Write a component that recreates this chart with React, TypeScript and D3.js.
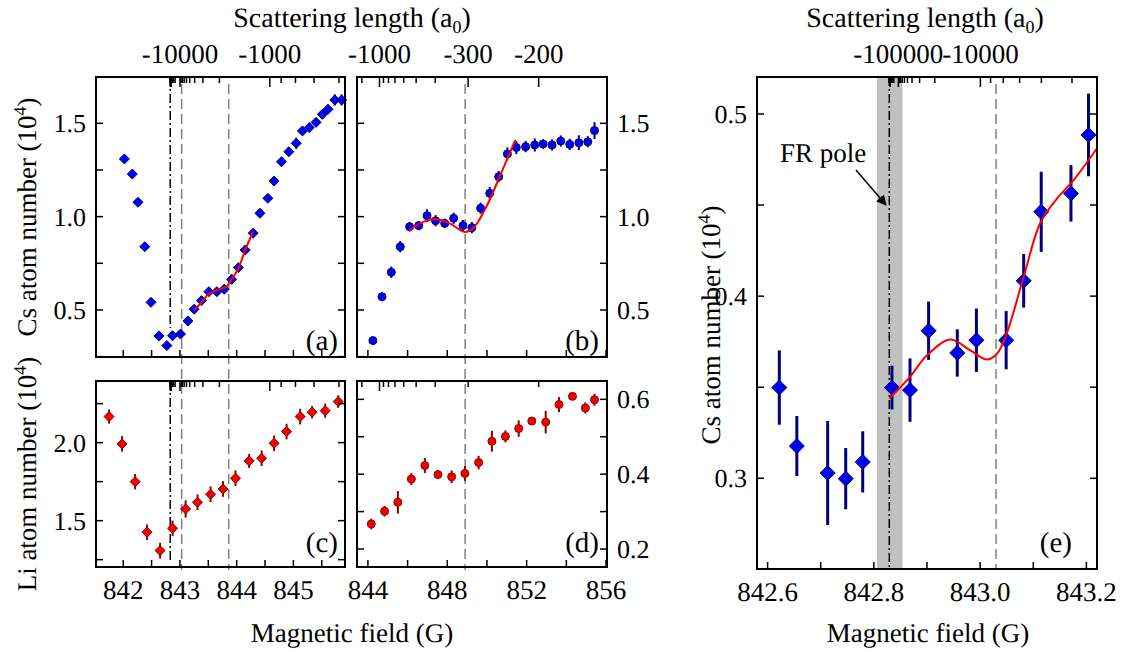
import React from 'react';
import * as d3 from 'd3';

const FONT = "'Liberation Serif', 'DejaVu Serif', serif";

// ---------- Data ----------
// Panel (a): Cs atom number (1e4) vs magnetic field (G)
const aField = [842.02, 842.16, 842.26, 842.38, 842.49, 842.63, 842.77, 842.87, 843.01, 843.14, 843.25, 843.38, 843.51, 843.65, 843.78, 843.91, 844.03, 844.15, 844.29, 844.41, 844.55, 844.66, 844.79, 844.92, 845.05, 845.16, 845.28, 845.40, 845.51, 845.61, 845.73, 845.85];
const aCs = [1.309, 1.228, 1.077, 0.839, 0.541, 0.361, 0.309, 0.362, 0.371, 0.441, 0.504, 0.550, 0.598, 0.598, 0.611, 0.664, 0.727, 0.821, 0.911, 1.018, 1.098, 1.191, 1.294, 1.348, 1.393, 1.459, 1.477, 1.505, 1.548, 1.575, 1.625, 1.625];
const aErr = [0.02, 0.02, 0.02, 0.02, 0.015, 0.015, 0.02, 0.02, 0.02, 0.015, 0.02, 0.02, 0.02, 0.02, 0.025, 0.025, 0.02, 0.02, 0.02, 0.02, 0.02, 0.02, 0.025, 0.025, 0.03, 0.02, 0.02, 0.02, 0.025, 0.025, 0.03, 0.03];
const aFitField = [843.25, 843.38, 843.50, 843.65, 843.82, 843.91, 844.03, 844.15, 844.29];
const aFitCs = [0.500, 0.540, 0.584, 0.607, 0.625, 0.664, 0.723, 0.821, 0.919];

// Panel (b): Cs atom number, wide field range
const bField = [844.25, 844.71, 845.18, 845.63, 846.10, 846.56, 846.98, 847.41, 847.87, 848.32, 848.79, 849.24, 849.68, 850.14, 850.59, 851.03, 851.48, 851.95, 852.41, 852.83, 853.28, 853.72, 854.17, 854.63, 855.08, 855.42];
const bCs = [0.336, 0.571, 0.702, 0.839, 0.946, 0.952, 1.005, 0.978, 0.964, 0.991, 0.952, 0.941, 1.045, 1.125, 1.214, 1.336, 1.370, 1.375, 1.384, 1.389, 1.384, 1.405, 1.387, 1.396, 1.401, 1.461];
const bErr = [0.01, 0.025, 0.03, 0.03, 0.025, 0.025, 0.035, 0.03, 0.025, 0.03, 0.03, 0.03, 0.03, 0.035, 0.03, 0.035, 0.035, 0.03, 0.035, 0.025, 0.03, 0.03, 0.03, 0.04, 0.03, 0.045];
const bFitField = [846.10, 846.6, 847.36, 848.12, 848.88, 849.30, 849.97, 850.64, 851.43];
const bFitCs = [0.925, 0.962, 0.987, 0.964, 0.918, 0.937, 1.053, 1.214, 1.411];

// Panel (c): Li atom number (1e4)
const cField = [841.75, 841.98, 842.21, 842.42, 842.65, 842.87, 843.10, 843.31, 843.54, 843.76, 843.98, 844.22, 844.44, 844.66, 844.88, 845.12, 845.33, 845.56, 845.79];
const cLi = [2.167, 1.992, 1.750, 1.426, 1.308, 1.451, 1.575, 1.618, 1.669, 1.703, 1.772, 1.883, 1.900, 1.996, 2.071, 2.167, 2.195, 2.205, 2.263];
const cErr = [0.045, 0.05, 0.05, 0.05, 0.05, 0.05, 0.055, 0.05, 0.05, 0.05, 0.05, 0.045, 0.05, 0.05, 0.05, 0.05, 0.04, 0.045, 0.04];

// Panel (d): Li atom number, wide range
const dField = [844.17, 844.84, 845.51, 846.19, 846.87, 847.53, 848.22, 848.89, 849.58, 850.25, 850.93, 851.60, 852.26, 852.96, 853.63, 854.31, 854.96, 855.42];
const dLi = [0.267, 0.301, 0.325, 0.387, 0.423, 0.399, 0.393, 0.402, 0.431, 0.488, 0.501, 0.522, 0.542, 0.539, 0.586, 0.608, 0.577, 0.599];
const dErr = [0.014, 0.014, 0.03, 0.016, 0.02, 0.012, 0.017, 0.02, 0.018, 0.028, 0.016, 0.022, 0.006, 0.03, 0.02, 0.008, 0.015, 0.016];

// Panel (e): Cs atom number, zoom on the pole
const eField = [842.622, 842.655, 842.713, 842.747, 842.779, 842.834, 842.868, 842.903, 842.957, 842.993, 843.049, 843.082, 843.115, 843.171, 843.204];
const eCs = [0.3498, 0.3177, 0.3029, 0.2998, 0.3090, 0.3498, 0.3484, 0.3810, 0.3688, 0.3758, 0.3758, 0.4084, 0.4463, 0.4564, 0.4885];
const eErr = [0.0204, 0.0165, 0.0286, 0.0168, 0.0168, 0.012, 0.0174, 0.016, 0.013, 0.0174, 0.016, 0.0147, 0.022, 0.0155, 0.0227];
const eFitField = [842.829, 842.868, 842.900, 842.944, 842.981, 843.013, 843.032, 843.050, 843.082, 843.113, 843.145, 843.176, 843.220];
const eFitCs = [0.3438, 0.3557, 0.3675, 0.3762, 0.3703, 0.3652, 0.3685, 0.3795, 0.4106, 0.4400, 0.4537, 0.4637, 0.4812];

// Resonance / scattering-length parameters
const POLE = 842.829;
const POLE_BAND = [842.806, 842.854];
const MIN_FIELD_A = 843.03;
const MIN_FIELD_B = 843.86;
const MIN_FIELD_WIDE = 848.9;
const A_BG = -25;
const KAPPA = -1711;
const fieldOfA = (a: number) => POLE + KAPPA / (a - A_BG);

const SL_VALUES: number[] = [];
[2, 3, 4, 5, 6].forEach((n) => {
  for (let k = 1; k <= 9; k++) SL_VALUES.push(-k * Math.pow(10, n));
});
const aTopLabels = [-10000, -1000];
const bTopLabels = [-1000, -300, -200];
const eTopLabels = [-100000, -10000];

const xTicksAC = [842, 842.5, 843, 843.5, 844, 844.5, 845, 845.5];
const xLabelsAC = [842, 843, 844, 845];
const xTicksBD = [844, 846, 848, 850, 852, 854, 856];
const xLabelsBD = [844, 848, 852, 856];
const xTicksE = [842.6, 842.7, 842.8, 842.9, 843.0, 843.1, 843.2];
const xLabelsE = [842.6, 842.8, 843.0, 843.2];
const yTicksAB = [0.25, 0.5, 0.75, 1.0, 1.25, 1.5];
const yLabelsAB = [0.5, 1.0, 1.5];
const yTicksC = [1.25, 1.5, 1.75, 2.0, 2.25];
const yLabelsC = [1.5, 2.0];
const yTicksD = [0.2, 0.3, 0.4, 0.5, 0.6];
const yLabelsD = [0.2, 0.4, 0.6];
const yTicksE = [0.3, 0.35, 0.4, 0.45, 0.5];
const yLabelsE = [0.3, 0.4, 0.5];

const BLUE = '#0000f0';
const NAVY = '#00007a';
const RED = '#f00000';
const DARKRED = '#8b0000';

type PanelDef = {
  left: number; top: number; width: number; height: number;
  xDomain: [number, number]; yDomain: [number, number];
  xTicks: number[]; xLabels: number[] | null; xFmt: (v: number) => string;
  yTicks: number[]; yLabels: number[]; ySide: 'left' | 'right'; yFmt: (v: number) => string;
  topLabels: number[] | null;
  xs: number[]; ys: number[]; es: number[];
  marker: 'diamond' | 'circle'; size: number; fill: string; stroke: string; errColor: string; errWidth: number;
  fitX?: number[]; fitY?: number[];
  tag: string; tagX: number; tagY: number;
};

const txt = { fontFamily: FONT, textRendering: 'geometricPrecision' } as React.CSSProperties;

function Panel(p: PanelDef & { children?: (x: any, y: any) => React.ReactNode }) {
  const x = d3.scaleLinear().domain(p.xDomain).range([p.left, p.left + p.width]);
  const y = d3.scaleLinear().domain(p.yDomain).range([p.top + p.height, p.top]);
  const right = p.left + p.width;
  const bottom = p.top + p.height;
  const TL = 7;
  const slTicks = SL_VALUES.map((a) => ({ a, b: fieldOfA(a) })).filter((t) => t.b > p.xDomain[0] && t.b < p.xDomain[1]);
  const line = d3.line<number>().x((_, i) => x(p.fitX![i])).y((v) => y(v)).curve(d3.curveCatmullRom.alpha(0.5));
  return (
    <g>
      {p.children ? p.children(x, y) : null}
      {p.xs.map((b, i) => (
        <line key={'e' + i} x1={x(b)} x2={x(b)} y1={y(p.ys[i] - p.es[i])} y2={y(p.ys[i] + p.es[i])} stroke={p.errColor} strokeWidth={p.errWidth} />
      ))}
      {p.xs.map((b, i) => {
        const cx = x(b), cy = y(p.ys[i]), s = p.size;
        return p.marker === 'diamond' ? (
          <path key={'m' + i} d={`M${cx},${cy - s}L${cx + s},${cy}L${cx},${cy + s}L${cx - s},${cy}Z`} fill={p.fill} stroke={p.errColor} strokeWidth={1} />
        ) : (
          <circle key={'m' + i} cx={cx} cy={cy} r={s} fill={p.fill} stroke={p.errColor} strokeWidth={1} />
        );
      })}
      {p.fitX && p.fitY ? <path d={line(p.fitY) || ''} fill="none" stroke="#ff0000" strokeWidth={2} /> : null}
      <rect x={p.left} y={p.top} width={p.width} height={p.height} fill="none" stroke="#000" strokeWidth={2} />
      {p.xTicks.map((t) => (
        <line key={'xt' + t} x1={x(t)} x2={x(t)} y1={bottom} y2={bottom - TL} stroke="#000" strokeWidth={1.5} />
      ))}
      {p.xLabels ? p.xLabels.map((t) => (
        <text key={'xl' + t} x={x(t)} y={bottom + 32} textAnchor="middle" fontSize={27} style={txt}>{p.xFmt(t)}</text>
      )) : null}
      {p.yTicks.map((t) => (
        <g key={'yt' + t}>
          <line x1={p.left} x2={p.left + TL} y1={y(t)} y2={y(t)} stroke="#000" strokeWidth={1.5} />
          <line x1={right} x2={right - TL} y1={y(t)} y2={y(t)} stroke="#000" strokeWidth={1.5} />
        </g>
      ))}
      {p.yLabels.map((t) => (
        <text key={'yl' + t} x={p.ySide === 'left' ? p.left - 10 : right + 10} y={y(t) + 9} textAnchor={p.ySide === 'left' ? 'end' : 'start'} fontSize={26} style={txt}>{p.yFmt(t)}</text>
      ))}
      {slTicks.map((t) => {
        const major = Math.abs(Math.log10(-t.a) % 1) < 1e-9 || (p.topLabels || []).includes(t.a);
        return <line key={'st' + t.a} x1={x(t.b)} x2={x(t.b)} y1={p.top} y2={p.top + (major ? 10 : 6)} stroke="#000" strokeWidth={1.5} />;
      })}
      {p.topLabels ? p.topLabels.map((a) => (
        <text key={'tl' + a} x={x(fieldOfA(a))} y={p.top - 14} textAnchor="middle" fontSize={27} style={txt}>{String(a)}</text>
      )) : null}
      <text x={p.tagX} y={p.tagY} textAnchor="end" fontSize={29} style={txt}>{p.tag}</text>
    </g>
  );
}

const f1 = (v: number) => v.toFixed(1);
const f0 = (v: number) => v.toFixed(0);

export default function App() {
  const panelA: PanelDef = {
    left: 96, top: 77, width: 249, height: 280, xDomain: [841.52, 845.91], yDomain: [0.248, 1.748],
    xTicks: xTicksAC, xLabels: null, xFmt: f0, yTicks: yTicksAB, yLabels: yLabelsAB, ySide: 'left', yFmt: f1,
    topLabels: aTopLabels, xs: aField, ys: aCs, es: aErr, marker: 'diamond', size: 5, fill: BLUE, stroke: NAVY, errColor: NAVY, errWidth: 2,
    fitX: aFitField, fitY: aFitCs, tag: '(a)', tagX: 338, tagY: 350,
  };
  const panelB: PanelDef = {
    left: 357, top: 77, width: 250, height: 280, xDomain: [843.45, 856.05], yDomain: [0.248, 1.748],
    xTicks: xTicksBD, xLabels: null, xFmt: f0, yTicks: yTicksAB, yLabels: yLabelsAB, ySide: 'right', yFmt: f1,
    topLabels: bTopLabels, xs: bField, ys: bCs, es: bErr, marker: 'circle', size: 4, fill: BLUE, stroke: NAVY, errColor: NAVY, errWidth: 2,
    fitX: bFitField, fitY: bFitCs, tag: '(b)', tagX: 599, tagY: 350,
  };
  const panelC: PanelDef = {
    left: 96, top: 381, width: 249, height: 186, xDomain: [841.52, 845.91], yDomain: [1.203, 2.395],
    xTicks: xTicksAC, xLabels: xLabelsAC, xFmt: f0, yTicks: yTicksC, yLabels: yLabelsC, ySide: 'left', yFmt: f1,
    topLabels: null, xs: cField, ys: cLi, es: cErr, marker: 'diamond', size: 5, fill: RED, stroke: DARKRED, errColor: DARKRED, errWidth: 2,
    tag: '(c)', tagX: 338, tagY: 552,
  };
  const panelD: PanelDef = {
    left: 357, top: 381, width: 250, height: 186, xDomain: [843.45, 856.05], yDomain: [0.152, 0.649],
    xTicks: xTicksBD, xLabels: xLabelsBD, xFmt: f0, yTicks: yTicksD, yLabels: yLabelsD, ySide: 'right', yFmt: f1,
    topLabels: null, xs: dField, ys: dLi, es: dErr, marker: 'circle', size: 4, fill: RED, stroke: DARKRED, errColor: DARKRED, errWidth: 2,
    tag: '(d)', tagX: 599, tagY: 552,
  };
  const panelE: PanelDef = {
    left: 757, top: 77, width: 340, height: 492, xDomain: [842.58, 843.22], yDomain: [0.2502, 0.5203],
    xTicks: xTicksE, xLabels: xLabelsE, xFmt: f1, yTicks: yTicksE, yLabels: yLabelsE, ySide: 'left', yFmt: f1,
    topLabels: eTopLabels, xs: eField, ys: eCs, es: eErr, marker: 'diamond', size: 7.5, fill: BLUE, stroke: NAVY, errColor: NAVY, errWidth: 3,
    fitX: eFitField, fitY: eFitCs, tag: '(e)', tagX: 1072, tagY: 552,
  };

  const xA = d3.scaleLinear().domain(panelA.xDomain).range([panelA.left, panelA.left + panelA.width]);
  const xB = d3.scaleLinear().domain(panelB.xDomain).range([panelB.left, panelB.left + panelB.width]);
  const dash = '10,5';
  const dashDot = '9,3,2,3';

  const sup = (label: string) => (
    <>{label} (10<tspan dy={-10} fontSize={18}>4</tspan><tspan dy={10}>)</tspan></>
  );

  return (
    <svg width={1128} height={652} style={{ position: 'absolute', left: 0, top: 0, background: '#fff', fontFamily: FONT, textRendering: 'geometricPrecision' }}>
      <rect x={0} y={0} width={1128} height={652} fill="#fff" />
      <line x1={xA(MIN_FIELD_A)} x2={xA(MIN_FIELD_A)} y1={84} y2={570} stroke="#808080" strokeWidth={1.5} strokeDasharray={dash} />
      <line x1={xA(MIN_FIELD_B)} x2={xA(MIN_FIELD_B)} y1={84} y2={570} stroke="#808080" strokeWidth={1.5} strokeDasharray={dash} />
      <line x1={xA(POLE)} x2={xA(POLE)} y1={77} y2={328} stroke="#000" strokeWidth={1.5} strokeDasharray={dashDot} />
      <line x1={xA(POLE)} x2={xA(POLE)} y1={381} y2={560} stroke="#000" strokeWidth={1.5} strokeDasharray={dashDot} />
      <line x1={xB(MIN_FIELD_WIDE)} x2={xB(MIN_FIELD_WIDE)} y1={84} y2={570} stroke="#808080" strokeWidth={1.5} strokeDasharray={dash} />

      <Panel {...panelA} />
      <Panel {...panelB} />
      <Panel {...panelC} />
      <Panel {...panelD} />
      <Panel {...panelE}>
        {(x: any) => (
          <g>
            <rect x={x(POLE_BAND[0])} y={panelE.top} width={x(POLE_BAND[1]) - x(POLE_BAND[0])} height={panelE.height} fill="#c0c0c0" />
            <line x1={x(MIN_FIELD_A)} x2={x(MIN_FIELD_A)} y1={84} y2={569} stroke="#808080" strokeWidth={1.5} strokeDasharray={dash} />
            <line x1={x(POLE)} x2={x(POLE)} y1={77} y2={569} stroke="#000" strokeWidth={1.5} strokeDasharray={dashDot} />
          </g>
        )}
      </Panel>

      <text x={780} y={162} fontSize={27} style={txt}>FR pole</text>
      <defs>
        <marker id="arr" viewBox="0 0 10 10" refX={9} refY={5} markerWidth={7} markerHeight={7} orient="auto">
          <path d="M0,0L10,5L0,10Z" fill="#000" />
        </marker>
      </defs>
      <line x1={856} y1={170} x2={886} y2={205} stroke="#000" strokeWidth={1.5} markerEnd="url(#arr)" />

      <text x={352} y={27} textAnchor="middle" fontSize={28} style={txt}>Scattering length (a<tspan dy={6} fontSize={18}>0</tspan><tspan dy={-6}>)</tspan></text>
      <text x={925} y={27} textAnchor="middle" fontSize={28} style={txt}>Scattering length (a<tspan dy={6} fontSize={18}>0</tspan><tspan dy={-6}>)</tspan></text>
      <text x={352} y={642} textAnchor="middle" fontSize={27} style={txt}>Magnetic field (G)</text>
      <text x={928} y={642} textAnchor="middle" fontSize={27} style={txt}>Magnetic field (G)</text>
      <text transform="translate(36,217) rotate(-90)" textAnchor="middle" fontSize={27} style={txt}>{sup('Cs atom number')}</text>
      <text transform="translate(36,474) rotate(-90)" textAnchor="middle" fontSize={27} style={txt}>{sup('Li atom number')}</text>
      <text transform="translate(720,325) rotate(-90)" textAnchor="middle" fontSize={27} style={txt}>{sup('Cs atom number')}</text>
    </svg>
  );
}
